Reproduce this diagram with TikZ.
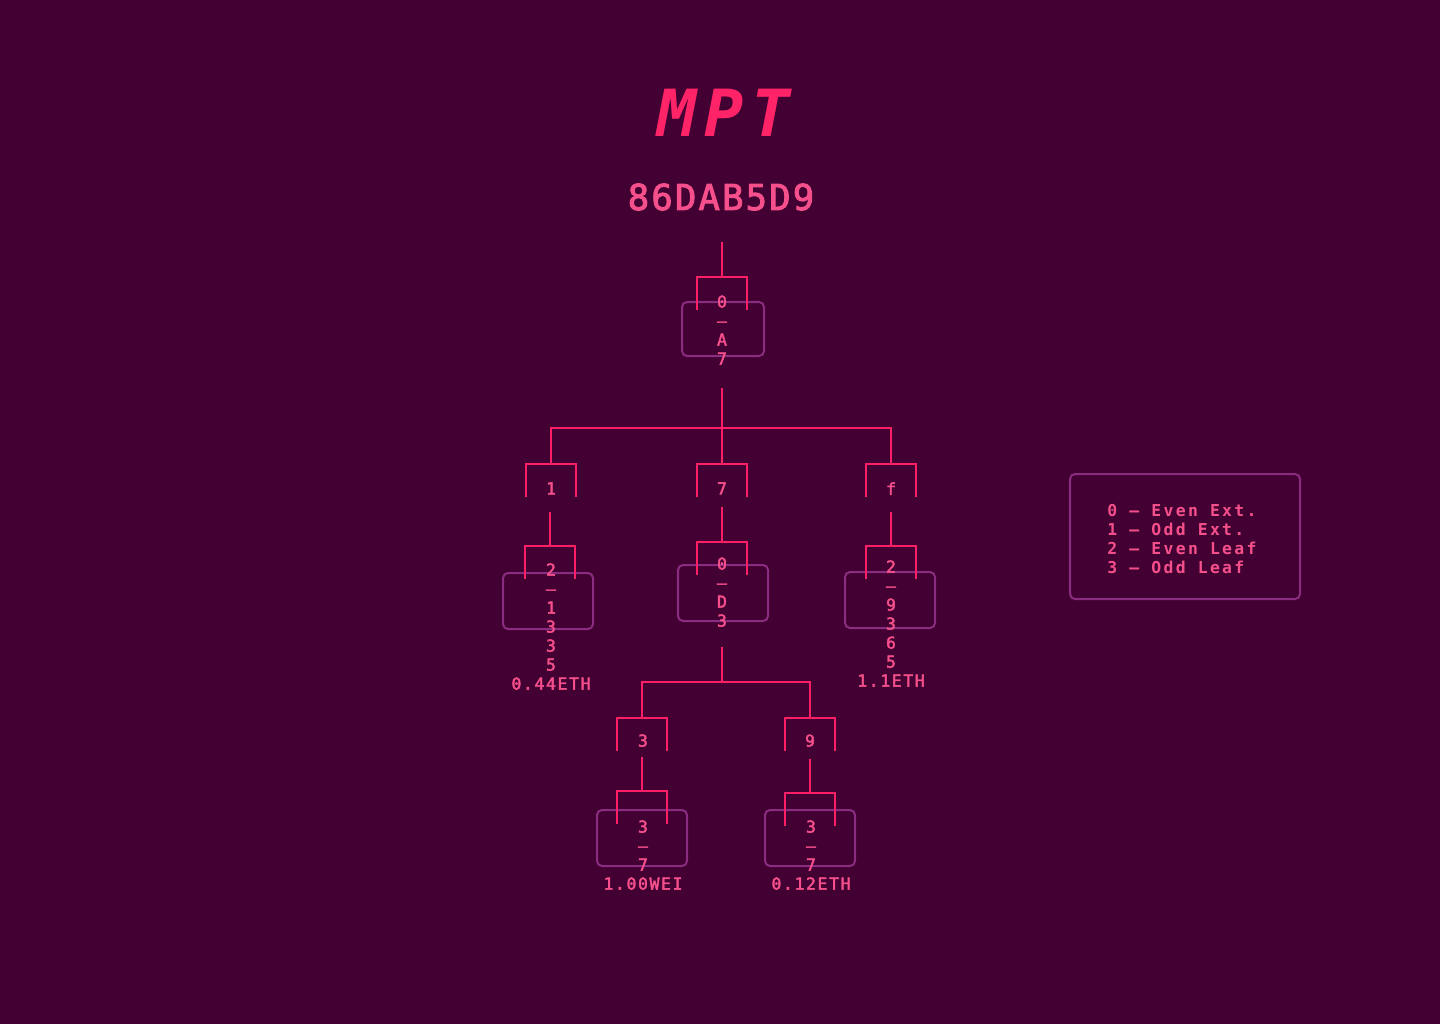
\documentclass[tikz,border=0pt]{standalone}
\usepackage{fontspec}
\newfontfamily\treefont{DejaVu Sans Mono}[LetterSpace=10, FakeBold=2.5]
\newfontfamily\legendfont{DejaVu Sans Mono Bold}[LetterSpace=14]
\newfontfamily\hashfont{DejaVu Sans Mono}[LetterSpace=6, FakeBold=2.5]
\newfontfamily\titlefont{DejaVu Sans Mono Bold Oblique}[LetterSpace=12]
\definecolor{bgplum}{HTML}{430032}
\definecolor{linepink}{HTML}{FF1F66}
\definecolor{textpink}{HTML}{F5508C}
\definecolor{boxplum}{HTML}{8A2C80}
\definecolor{titlepink}{HTML}{FF2468}
\begin{document}
\begin{tikzpicture}[x=0.5pt, y=-0.5pt,
  wire/.style={draw=linepink, line width=1pt},
  framebox/.style={draw=boxplum, line width=1pt, rounded corners=2.5pt},
  digits/.style={text=textpink, font=\treefont\fontsize{8.2}{9.5}\selectfont,
    align=center, inner sep=0pt, anchor=north},
  legendtext/.style={text=textpink, font=\legendfont\fontsize{8.2}{9.5}\selectfont,
    align=left, inner sep=0pt, anchor=north west},
  bracket/.pic={\draw[wire] (-25,33) -- (-25,0) -- (25,0) -- (25,33);}]
  \fill[bgplum] (0,0) rectangle (1440,1024);
  \useasboundingbox (0,0) rectangle (1440,1024);
  % heading
  \node[text=titlepink, font=\titlefont\fontsize{32.5}{38}\selectfont] (title) at (724,113) {MPT};
  \node[text=textpink, font=\hashfont\fontsize{17.8}{20}\selectfont] (hash) at (721,197) {86DAB5D9};
  % bracket tops and wire ends
  \coordinate (in-root) at (722,242);
  \coordinate (root) at (722,277);
  \coordinate (out-root) at (722,388);
  \coordinate (k1) at (551,464);
  \coordinate (k7) at (722,464);
  \coordinate (kf) at (891,464);
  \coordinate (out-k1) at (550,512);
  \coordinate (out-k7) at (722,507);
  \coordinate (out-kf) at (891,512);
  \coordinate (leaf1) at (550,546);
  \coordinate (ext7) at (722,542);
  \coordinate (leaff) at (891,546);
  \coordinate (out-ext7) at (722,647);
  \coordinate (split7) at (722,682);
  \coordinate (k3) at (642,718);
  \coordinate (k9) at (810,718);
  \coordinate (out-k3) at (642,757);
  \coordinate (out-k9) at (810,759);
  \coordinate (leaf3) at (642,791);
  \coordinate (leaf9) at (810,793);
  % boxes
  \draw[framebox] (682,302) rectangle (764,356);
  \draw[framebox] (503,573) rectangle (593,629);
  \draw[framebox] (678,565) rectangle (768,621);
  \draw[framebox] (845,572) rectangle (935,628);
  \draw[framebox] (597,810) rectangle (687,866);
  \draw[framebox] (765,810) rectangle (855,866);
  \draw[framebox] (1070,474) rectangle (1300,599);
  % wires
  \draw[wire] (in-root) -- (root);
  \draw[wire] (out-root) -- (k7);
  \draw[wire] (k1) -- ++(0,-36) -| (kf);
  \draw[wire] (out-k1) -- (leaf1);
  \draw[wire] (out-k7) -- (ext7);
  \draw[wire] (out-kf) -- (leaff);
  \draw[wire] (out-ext7) -- (split7);
  \draw[wire] (k3) -- ++(0,-36) -| (k9);
  \draw[wire] (out-k3) -- (leaf3);
  \draw[wire] (out-k9) -- (leaf9);
  \foreach \b in {root,k1,k7,kf,leaf1,ext7,leaff,k3,k9,leaf3,leaf9}
    \pic at (\b) {bracket};
  % labels
  \node[digits] (t-root) at (722,295) {0\\–\\A\\7};
  \node[digits] (t-k1) at (551,482) {1};
  \node[digits] (t-k7) at (722,482) {7};
  \node[digits] (t-kf) at (891,482) {f};
  \node[digits] (t-leaf1) at (551,563) {2\\–\\1\\3\\3\\5\\0.44ETH};
  \node[digits] (t-ext7) at (722,557) {0\\–\\D\\3};
  \node[digits] (t-leaff) at (891,560) {2\\–\\9\\3\\6\\5\\1.1ETH};
  \node[digits] (t-k3) at (643,734) {3};
  \node[digits] (t-k9) at (810,734) {9};
  \node[digits] (t-leaf3) at (643,820) {3\\–\\7\\1.00WEI};
  \node[digits] (t-leaf9) at (811,820) {3\\–\\7\\0.12ETH};
  \node[legendtext] (legend) at (1107,504) {0 – Even Ext.\\1 – Odd Ext.\\2 – Even Leaf\\3 – Odd Leaf};
\end{tikzpicture}
\end{document}
